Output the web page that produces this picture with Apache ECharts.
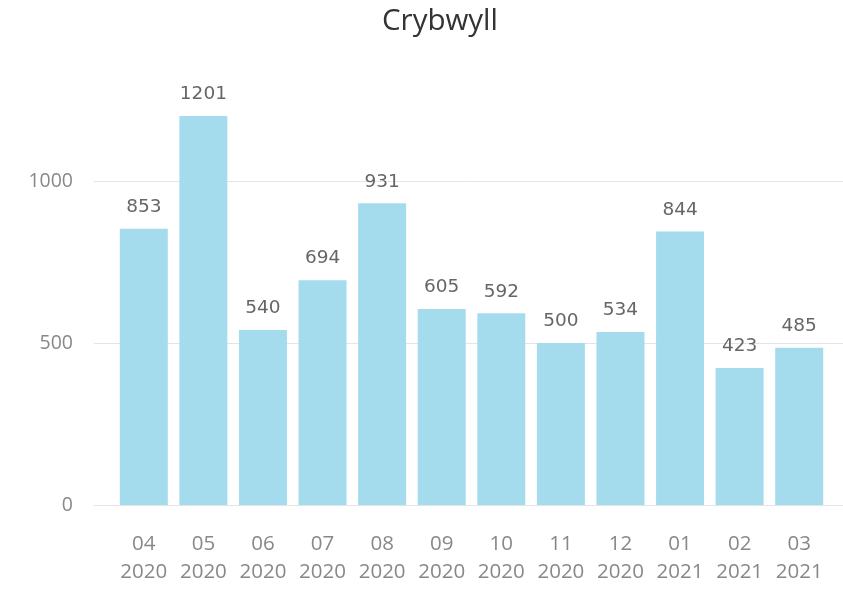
<!DOCTYPE html>
<html>
<head>
    <meta charset="UTF-8">
    <title>Crybwyll</title>
    <script src="https://cdn.jsdelivr.net/npm/echarts@6/dist/echarts.min.js"></script>
    <style>
        html, body { margin: 0; padding: 0; background: #fff; }
    </style>
</head>
<body>
    <div id="main" style="width: 843px;height:589px;"></div>
    <script>
        // data
        var months = ['04\n2020', '05\n2020', '06\n2020', '07\n2020', '08\n2020', '09\n2020',
                      '10\n2020', '11\n2020', '12\n2020', '01\n2021', '02\n2021', '03\n2021'];
        var counts = [853, 1201, 540, 694, 931, 605, 592, 500, 534, 844, 423, 485];
        var yTicks = [0, 500, 1000];

        var barColor = '#a4dcee';
        var baseY = 505;      // pixel of value 0
        var tickTopY = 181;   // pixel of value 1000
        var yTop = 1201;      // top of the bars' value axis
        var barsTop = baseY - (baseY - tickTopY) * yTop / yTicks[yTicks.length - 1];

        var chart = echarts.init(document.getElementById('main'));
        chart.setOption({
            animation: false,
            title: {
                text: 'Crybwyll',
                left: 435,
                top: 2,
                textAlign: 'center',
                textStyle: { fontFamily: 'Open Sans', fontSize: 29.5, fontWeight: 'normal', color: '#333' }
            },
            grid: [
                // grid for gridlines + y labels
                { left: 94, right: 0, top: tickTopY, bottom: 589 - baseY },
                // grid for the bars
                { left: 114, right: 14, top: barsTop, bottom: 589 - baseY }
            ],
            xAxis: [
                { gridIndex: 0, type: 'value', show: false, min: 0, max: 1 },
                {
                    gridIndex: 1,
                    type: 'category',
                    data: months,
                    axisLine: { show: false },
                    axisTick: { show: false },
                    axisLabel: {
                        interval: 0,
                        margin: 25,
                        fontFamily: 'Open Sans',
                        fontSize: 20.5,
                        lineHeight: 28,
                        color: '#888'
                    }
                }
            ],
            yAxis: [
                {
                    gridIndex: 0,
                    type: 'value',
                    min: yTicks[0],
                    max: yTicks[yTicks.length - 1],
                    interval: yTicks[1] - yTicks[0],
                    axisLine: { show: false },
                    axisTick: { show: false },
                    axisLabel: {
                        margin: 21,
                        fontFamily: 'Open Sans',
                        fontSize: 19.5,
                        color: '#888',
                        formatter: function (v) { return String(v); }
                    },
                    splitLine: { lineStyle: { color: '#e4e4e4', width: 1 } }
                },
                { gridIndex: 1, type: 'value', min: 0, max: yTop, show: false, splitLine: { show: false } }
            ],
            series: [{
                type: 'bar',
                xAxisIndex: 1,
                yAxisIndex: 1,
                data: counts,
                barWidth: 48,
                itemStyle: { color: barColor },
                label: {
                    show: true,
                    position: 'top',
                    distance: 12,
                    fontFamily: 'DejaVu Sans',
                    fontSize: 18.5,
                    fontWeight: 500,
                    color: '#666'
                }
            }]
        });
    </script>
</body>
</html>
